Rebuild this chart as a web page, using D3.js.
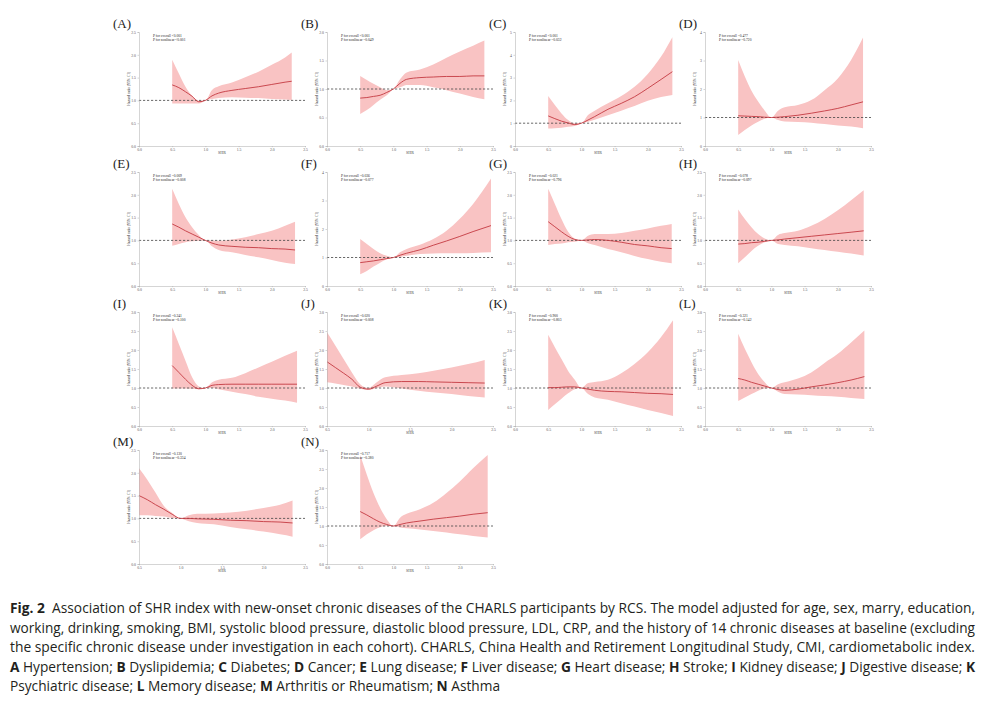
<!DOCTYPE html>
<html>
<head>
<meta charset="utf-8">
<script src="https://cdn.jsdelivr.net/npm/d3@7"></script>
<style>
  body { margin: 0; background: #fff; }
  svg { display: block; }
</style>
</head>
<body>
<script>
// panel letters and P values
var panelLetters = ["A","B","C","D","E","F","G","H","I","J","K","L","M","N"];
var pOverall   = ["<0.001","<0.001","<0.001","=0.477","=0.009","=0.036","=0.021","=0.078","=0.241","=0.020","=0.900","=0.321","=0.130","=0.717"];
var pNonlinear = ["<0.001","=0.049","=0.032","=0.720","=0.008","=0.077","=0.796","=0.097","=0.100","=0.008","=0.803","=0.142","=0.334","=0.380"];

// axis ranges per panel
var yTop   = [2.5, 2, 5, 4, 2.5, 4, 2.5, 2.5, 3, 3, 3, 3, 2.5, 3];
var yStep  = [0.5, 0.5, 1, 1, 0.5, 1, 0.5, 0.5, 0.5, 0.5, 0.5, 0.5, 0.5, 0.5];
var xStart = [0, 0, 0, 0, 0, 0, 0, 0, 0, 0.5, 0, 0, 0.5, 0];
var xTop = 2.5;

// SHR values where the curves were read, last point differs per panel
var shrGrid = [0.5, 0.6, 0.7, 0.8, 0.9, 1.0, 1.1, 1.2, 1.4, 1.6, 1.8, 2.0, 2.2];
var shrEnd  = [2.30, 2.37, 2.37, 2.38, 2.35, 2.47, 2.36, 2.39, 2.38, 2.40, 2.38, 2.40, 2.35, 2.42];

// hazard ratio and 95% CI
var hazard = [
  [1.34,1.28,1.19,1.09,0.97,1.00,1.10,1.16,1.22,1.26,1.30,1.35,1.40,1.42],
  [0.84,0.85,0.87,0.89,0.94,1.00,1.10,1.17,1.20,1.21,1.22,1.22,1.23,1.23],
  [1.32,1.20,1.09,1.01,0.94,1.00,1.14,1.29,1.61,1.87,2.16,2.53,2.92,3.26],
  [1.06,1.05,1.04,1.03,1.01,1.00,1.01,1.03,1.08,1.15,1.23,1.32,1.44,1.55],
  [1.36,1.29,1.21,1.14,1.07,1.00,0.94,0.90,0.87,0.85,0.84,0.82,0.81,0.79],
  [0.82,0.85,0.88,0.92,0.96,1.00,1.08,1.15,1.27,1.43,1.58,1.74,1.91,2.12],
  [1.41,1.30,1.19,1.09,1.02,1.00,1.01,1.02,1.00,0.96,0.91,0.88,0.84,0.82],
  [0.92,0.93,0.95,0.96,0.98,1.00,1.01,1.03,1.06,1.09,1.12,1.15,1.18,1.21],
  [1.59,1.41,1.23,1.07,0.98,1.00,1.07,1.09,1.10,1.10,1.10,1.10,1.10,1.10],
  [1.69,1.54,1.39,1.23,1.02,0.97,1.05,1.14,1.17,1.17,1.16,1.15,1.14,1.13],
  [1.01,1.01,1.02,1.03,1.03,1.00,0.97,0.94,0.91,0.90,0.88,0.86,0.85,0.83],
  [1.25,1.21,1.15,1.10,1.05,1.00,0.96,0.94,0.97,1.03,1.08,1.14,1.21,1.30],
  [1.50,1.41,1.30,1.20,1.09,1.00,1.00,0.99,0.98,0.96,0.95,0.93,0.92,0.90],
  [1.38,1.29,1.19,1.10,1.04,1.00,1.04,1.08,1.13,1.18,1.22,1.26,1.31,1.35]
];
var lower = [
  [0.93,0.93,0.93,0.93,0.93,1.00,1.03,1.05,1.07,1.06,1.05,1.03,1.02,1.01],
  [0.56,0.63,0.72,0.81,0.89,1.00,1.03,1.07,1.07,1.03,0.98,0.92,0.86,0.82],
  [0.77,0.78,0.80,0.84,0.88,1.00,1.06,1.15,1.35,1.55,1.75,1.98,2.15,2.24],
  [0.39,0.56,0.72,0.85,0.96,1.00,0.91,0.86,0.84,0.82,0.77,0.72,0.68,0.62],
  [0.88,0.92,0.96,0.98,0.99,1.00,0.87,0.79,0.74,0.68,0.63,0.57,0.51,0.48],
  [0.41,0.53,0.68,0.82,0.94,1.00,1.02,1.06,1.12,1.14,1.15,1.15,1.16,1.18],
  [0.90,0.92,0.93,0.96,0.97,1.00,0.94,0.90,0.81,0.74,0.66,0.59,0.53,0.50],
  [0.50,0.63,0.77,0.88,0.96,1.00,0.92,0.90,0.87,0.83,0.79,0.75,0.71,0.67],
  [0.99,0.99,0.99,0.98,0.97,1.00,1.00,0.97,0.90,0.84,0.77,0.72,0.67,0.61],
  [1.15,1.12,1.08,1.04,0.98,0.95,1.00,1.04,0.99,0.93,0.88,0.84,0.79,0.75],
  [0.42,0.57,0.72,0.86,0.97,1.00,0.84,0.75,0.69,0.60,0.51,0.42,0.34,0.26],
  [0.66,0.75,0.84,0.93,0.99,1.00,0.90,0.84,0.83,0.81,0.79,0.77,0.74,0.71],
  [1.07,1.07,1.05,1.04,1.01,1.00,0.94,0.90,0.87,0.81,0.76,0.71,0.65,0.60],
  [0.65,0.78,0.89,0.97,1.00,1.00,0.96,0.94,0.91,0.87,0.83,0.78,0.74,0.70]
];
var upper = [
  [1.89,1.59,1.30,1.10,0.99,1.00,1.23,1.31,1.39,1.51,1.63,1.78,1.94,2.05],
  [1.23,1.16,1.09,1.03,0.98,1.00,1.17,1.29,1.34,1.43,1.55,1.66,1.76,1.85],
  [2.19,1.80,1.43,1.14,1.00,1.00,1.36,1.55,1.87,2.19,2.60,3.16,3.92,4.77],
  [3.02,2.44,1.94,1.56,1.24,1.00,1.24,1.36,1.44,1.61,1.96,2.37,3.02,3.81],
  [2.13,1.80,1.51,1.29,1.12,1.00,1.00,0.99,1.02,1.07,1.14,1.21,1.32,1.41],
  [1.65,1.47,1.30,1.15,1.06,1.00,1.18,1.30,1.45,1.65,1.94,2.36,2.88,3.77],
  [2.13,1.80,1.47,1.19,1.04,1.00,1.10,1.14,1.14,1.16,1.21,1.26,1.32,1.36],
  [1.68,1.47,1.29,1.14,1.04,1.00,1.12,1.16,1.21,1.32,1.47,1.66,1.88,2.10],
  [2.60,2.16,1.72,1.28,1.04,1.00,1.15,1.22,1.27,1.39,1.54,1.69,1.85,1.98],
  [2.47,2.12,1.76,1.41,1.10,1.00,1.15,1.28,1.34,1.39,1.46,1.54,1.63,1.74],
  [2.40,2.07,1.76,1.45,1.22,1.00,1.13,1.16,1.22,1.39,1.63,1.94,2.34,2.78],
  [2.43,2.03,1.68,1.37,1.15,1.00,1.10,1.15,1.25,1.41,1.66,1.90,2.20,2.51],
  [2.10,1.85,1.56,1.27,1.12,1.00,1.07,1.10,1.11,1.13,1.17,1.23,1.30,1.39],
  [2.87,2.35,1.87,1.48,1.18,1.00,1.22,1.32,1.44,1.61,1.87,2.17,2.52,2.87]
];

// caption, each line is a list of [text, bold]
var captionLines = [
  [["Fig. 2", true], ["  Association of SHR index with new-onset chronic diseases of the CHARLS participants by RCS. The model adjusted for age, sex, marry, education,", false]],
  [["working, drinking, smoking, BMI, systolic blood pressure, diastolic blood pressure, LDL, CRP, and the history of 14 chronic diseases at baseline (excluding", false]],
  [["the specific chronic disease under investigation in each cohort). CHARLS, China Health and Retirement Longitudinal Study, CMI, cardiometabolic index.", false]],
  [["A", true], [" Hypertension; ", false], ["B", true], [" Dyslipidemia; ", false], ["C", true], [" Diabetes; ", false], ["D", true], [" Cancer; ", false], ["E", true], [" Lung disease; ", false], ["F", true], [" Liver disease; ", false], ["G", true], [" Heart disease; ", false], ["H", true], [" Stroke; ", false], ["I", true], [" Kidney disease; ", false], ["J", true], [" Digestive disease; ", false], ["K", true]],
  [["Psychiatric disease; ", false], ["L", true], [" Memory disease; ", false], ["M", true], [" Arthritis or Rheumatism; ", false], ["N", true], [" Asthma", false]]
];

var width = 984;
var height = 707;

// panel grid
var colX = [139, 327, 515, 705];
var rowY = [32, 172, 312, 450];
var pw = 166;
var ph = 114;

var svg = d3.select("body")
  .append("svg")
  .attr("width", width)
  .attr("height", height);

var area = d3.area()
  .curve(d3.curveMonotoneX);
var line = d3.line()
  .curve(d3.curveMonotoneX);

panelLetters.forEach(function(letter, i) {
  var col = i % 4;
  var row = Math.floor(i / 4);

  var g = svg.append("g")
    .attr("transform", "translate(" + colX[col] + "," + rowY[row] + ")");

  var xscale = d3.scaleLinear()
    .domain([xStart[i], xTop])
    .range([0, pw]);

  var yscale = d3.scaleLinear()
    .domain([0, yTop[i]])
    .range([ph, 0]);

  var pts = shrGrid.concat([shrEnd[i]]).map(function(x, k) {
    return { x: x, hr: hazard[i][k], lo: lower[i][k], hi: upper[i][k] };
  });

  // confidence band
  g.append("path")
    .datum(pts)
    .attr("fill", "#f9c3c3")
    .attr("d", area
      .x(function(d) { return xscale(d.x); })
      .y0(function(d) { return yscale(d.lo); })
      .y1(function(d) { return yscale(d.hi); }));

  // reference line HR = 1
  g.append("line")
    .attr("x1", xscale(xStart[i]))
    .attr("x2", xscale(xTop))
    .attr("y1", yscale(1))
    .attr("y2", yscale(1))
    .attr("stroke", "#444")
    .attr("stroke-width", 0.8)
    .attr("stroke-dasharray", "2.2,1.8");

  // hazard ratio curve
  g.append("path")
    .datum(pts)
    .attr("fill", "none")
    .attr("stroke", "#c43a42")
    .attr("stroke-width", 0.9)
    .attr("d", line
      .x(function(d) { return xscale(d.x); })
      .y(function(d) { return yscale(d.hr); }));

  var yticks = d3.range(0, yTop[i] + 1e-9, yStep[i]);
  var yfmt = yStep[i] >= 1 ? d3.format(".0f") : d3.format(".1f");
  var yAxis = d3.axisLeft(yscale)
    .tickValues(yticks)
    .tickFormat(yfmt)
    .tickSize(1.5)
    .tickPadding(1.5);

  var xticks = d3.range(xStart[i], xTop + 1e-9, 0.5);
  var xAxis = d3.axisBottom(xscale)
    .tickValues(xticks)
    .tickFormat(d3.format(".1f"))
    .tickSize(1.2)
    .tickPadding(1);

  var ya = g.append("g").call(yAxis);
  var xa = g.append("g")
    .attr("transform", "translate(0," + ph + ")")
    .call(xAxis);

  [ya, xa].forEach(function(a) {
    a.selectAll("path, line").attr("stroke", "#aaa").attr("stroke-width", 0.5);
    a.selectAll("text")
      .attr("font-family", "Liberation Serif")
      .attr("font-size", 3.8)
      .attr("fill", "#555");
  });

  g.append("text")
    .attr("transform", "translate(-9," + (ph / 2) + ") rotate(-90)")
    .attr("text-anchor", "middle")
    .attr("font-family", "Liberation Serif")
    .attr("font-size", 3.8)
    .attr("fill", "#333")
    .text("Hazard ratio (95% CI)");

  g.append("text")
    .attr("x", pw / 2)
    .attr("y", ph + 8)
    .attr("text-anchor", "middle")
    .attr("font-family", "Liberation Serif")
    .attr("font-size", 4)
    .attr("fill", "#444")
    .text("SHR");

  // P values
  g.append("text")
    .attr("x", 14)
    .attr("y", 5)
    .attr("font-family", "Liberation Serif")
    .attr("font-size", 3.6)
    .attr("fill", "#222")
    .text("P for overall " + pOverall[i]);
  g.append("text")
    .attr("x", 14)
    .attr("y", 9)
    .attr("font-family", "Liberation Serif")
    .attr("font-size", 3.6)
    .attr("fill", "#222")
    .text("P for nonlinear " + pNonlinear[i]);

  // panel label
  g.append("text")
    .attr("x", -26)
    .attr("y", -4)
    .attr("font-family", "Liberation Serif")
    .attr("font-size", 13)
    .attr("fill", "#222")
    .text("(" + letter + ")");
});

// caption
captionLines.forEach(function(segs, li) {
  var t = svg.append("text")
    .attr("x", 10)
    .attr("y", 613 + li * 19.5)
    .attr("font-family", "Open Sans")
    .attr("font-size", 13.7)
    .attr("fill", "#231f20")
    .attr("xml:space", "preserve")
    .style("white-space", "pre");
  if (li < 4) {
    t.attr("textLength", 965).attr("lengthAdjust", "spacingAndGlyphs");
  }
  segs.forEach(function(s) {
    t.append("tspan")
      .attr("font-weight", s[1] ? "bold" : "normal")
      .text(s[0]);
  });
});
</script>
</body>
</html>
